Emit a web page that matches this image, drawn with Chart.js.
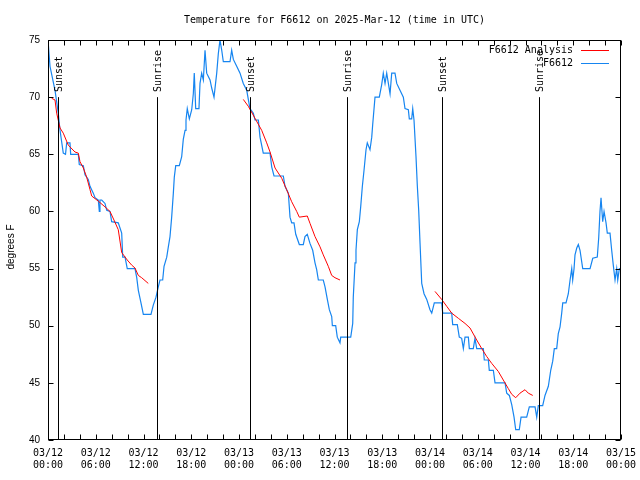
<!DOCTYPE html>
<html>
<head>
<meta charset="utf-8">
<script src="https://cdn.jsdelivr.net/npm/chart.js@4.4.1/dist/chart.umd.min.js"></script>
<style>
  html, body { margin: 0; padding: 0; background: #fff; }
</style>
</head>
<body>
<canvas id="chart" width="640" height="480"></canvas>
<script>
// hours since 03/12 00:00 UTC
const obsHours = [
  0, 0.25, 0.88, 1.29, 1.51, 1.92, 2.2, 2.35, 2.76, 2.85, 3.81, 3.93, 4.44, 4.65, 5.06, 5.28, 5.69, 5.91,
  6.32, 6.45, 6.53, 6.75, 7.16, 7.38, 7.79, 8.0, 8.83, 9.26, 9.39, 9.68, 9.96, 10.93, 11.15, 11.35, 11.65,
  11.98, 12.94, 13.23, 13.57, 13.86, 14.07, 14.41, 14.58, 14.92, 15.12, 15.33, 15.54, 15.75, 15.87, 16.05,
  16.5, 16.8, 17.0, 17.22, 17.34, 17.5, 17.76, 18.06, 18.26, 18.38, 18.56, 18.97, 19.1, 19.31, 19.52, 19.73,
  19.94, 20.36, 20.57, 20.86, 21.2, 21.4, 21.61, 21.83, 22.03, 22.87, 23.08, 23.29, 23.71, 24.13, 24.54,
  24.97, 25.17, 25.38, 25.8, 26.01, 26.43, 26.64, 27.05, 27.9, 28.11, 28.4, 29.57, 29.78, 30.2, 30.41,
  30.62, 30.91, 31.13, 31.58, 32.08, 32.29, 32.58, 32.92, 33.26, 33.55, 33.76, 33.97, 34.59, 34.81, 35.1,
  35.35, 35.65, 35.73, 36.15, 36.35, 36.69, 36.78, 38.04, 38.29, 38.36, 38.58, 38.7, 38.87, 39.12, 39.29,
  39.5, 39.71, 39.96, 40.12, 40.46, 40.68, 40.8, 41.09, 41.63, 41.93, 42.13, 42.35, 42.56, 42.98, 43.19,
  43.6, 43.82, 44.23, 44.65, 44.86, 45.28, 45.4, 45.7, 45.83, 45.99, 46.24, 46.41, 46.58, 46.75, 46.96,
  47.25, 47.59, 48.0, 48.22, 48.54, 49.47, 49.6, 50.73, 50.85, 51.43, 51.68, 51.98, 52.19, 52.4, 52.82,
  52.94, 53.44, 53.65, 53.87, 54.7, 54.82, 55.33, 55.45, 55.96, 56.17, 57.43, 57.64, 57.97, 58.27, 58.56,
  58.77, 59.22, 59.44, 60.15, 60.48, 61.2, 61.41, 61.61, 62.16, 62.45, 62.87, 63.17, 63.42, 63.62, 63.92,
  64.12, 64.34, 64.55, 64.68, 65.09, 65.38, 65.6, 65.81, 65.93, 66.1, 66.22, 66.44, 66.64, 66.85, 67.19,
  68.11, 68.45, 69.02, 69.2, 69.36, 69.49, 69.7, 69.87, 70.12, 70.28, 70.62, 70.83, 71.03, 71.25, 71.46,
  71.59, 71.79, 72.0
];
const obsTemps = [
  75, 72.7, 70.6, 68.6, 67.1, 65.1, 65, 66, 66, 65, 65, 64.1, 64, 63.2, 62.8, 62.2, 61.6, 61.2,
  61, 60, 61, 61, 60.7, 60.1, 60, 59.1, 59, 58.1, 56, 56, 55, 55, 54.2, 53.1, 52.1,
  51, 51, 51.8, 52.5, 53.4, 54, 54, 55.2, 56, 56.9, 57.8, 59.5, 61.6, 63, 64,
  64, 64.8, 66.3, 67.1, 68, 69, 68.1, 68.9, 70.3, 72.1, 69, 69, 71.2, 72.1, 71.5, 74.1,
  72.1, 71.5, 70.8, 70, 72.1, 73.8, 75, 74.1, 73.1, 73.1, 74.1, 73.3, 72.7, 72.1, 71.2,
  70.6, 69.8, 69, 68.6, 68, 68, 66.5, 65.1, 65.1, 63.9, 63.1, 63.1, 62.2, 61.6, 59.5,
  59, 59, 58, 57.1, 57.1, 57.8, 58, 57.2, 56.6, 55.5, 54.9, 54, 54, 53.4, 52.3,
  51.4, 50.8, 50, 50, 49, 48.5, 49, 49, 50.2, 52.5, 55.5, 56.6, 58.4, 59.1, 60.4,
  62.2, 63.6, 65.4, 66, 65.4, 66.5, 67.6, 70, 70, 71.1, 72.1, 71.2, 72.1, 70.3, 72.1,
  72.1, 71.2, 70.6, 70, 69, 68.9, 68.1, 68.1, 69, 68, 64.8, 62.2, 60.1, 57.2, 53.7,
  52.8, 52.3, 51.4, 51.1, 52, 52, 51.1, 51.1, 50.1, 50.1, 49, 48.9, 48, 49, 49,
  48, 48, 48.9, 48, 48, 47, 47, 46.1, 46.1, 45, 45, 44.1, 43.9, 43.1, 42,
  40.9, 40.9, 42, 42, 42.9, 42.9, 42, 43, 43, 43.9, 44.7, 46.1, 46.9, 48, 48,
  49.3, 49.9, 51.1, 52, 52, 52.8, 54, 55, 54, 55, 56.2, 56.8, 57.1, 56.6, 55,
  55, 55.9, 56, 57.7, 60, 61.2, 59.1, 60, 59, 58.1, 58.1, 56.6, 55.3, 54, 55,
  54, 55, 55
];

const anaHours = [
  0.46, 0.88, 1.09, 1.51, 1.92, 2.55, 3.39, 3.81, 4.02, 4.44, 4.86, 5.28, 5.49, 6.32, 7.16, 7.79, 8.29,
  8.83, 9.26, 9.96, 10.52, 10.93, 11.35, 11.77, 12.6,
  18,
  24.54, 25.17, 26.01, 26.85, 27.48, 27.9, 28.53, 29.37, 29.99, 30.62, 31.25, 31.58, 32.58, 32.92, 33.55,
  34.18, 34.59, 35.22, 35.65, 36.06, 36.69,
  42,
  48.63, 49.47, 50.1, 50.73, 51.56, 52.4, 53.03, 53.87, 54.5, 55.13, 55.76, 56.58, 57.21, 57.84, 58.27,
  58.77, 59.31, 59.94, 60.35, 60.91
];
const anaTemps = [
  69.9, 69.75, 68.6, 67.3, 66.85, 65.8, 65.2, 65.1, 64.35, 63.8, 63, 61.9, 61.35, 60.9, 60.4, 60, 59.25,
  58.4, 56.4, 55.75, 55.3, 55.05, 54.4, 54.2, 53.7,
  null,
  69.8, 69.2, 68.15, 67.1, 66, 65.2, 63.8, 62.9, 61.9, 60.85, 60, 59.5, 59.6, 58.96, 57.8,
  56.9, 56.2, 55.2, 54.4, 54.2, 54,
  null,
  53, 52.3, 51.7, 51.1, 50.65, 50.2, 49.8, 48.75, 48, 47.3, 46.7, 46, 45.25, 44.5, 44,
  43.7, 44.1, 44.4, 44.1, 43.9
];

const sunHours = [1.3, 13.65, 25.4, 37.6, 49.55, 61.74];
const sunLabels = ["Sunset", "Sunrise", "Sunset", "Sunrise", "Sunset", "Sunrise"];

const dayLabels = ["03/12", "03/12", "03/12", "03/12", "03/13", "03/13", "03/13", "03/13",
                   "03/14", "03/14", "03/14", "03/14", "03/15"];
const timeLabels = ["00:00", "06:00", "12:00", "18:00", "00:00", "06:00", "12:00", "18:00",
                    "00:00", "06:00", "12:00", "18:00", "00:00"];

const mono = '"DejaVu Sans Mono", monospace';
const sans = '"Liberation Sans", Arial, sans-serif';

const toPoints = (xs, ys) => xs.map((h, i) => ({ x: h, y: ys[i] }));

const gnuplotFrame = {
  id: "gnuplotFrame",
  afterDatasetsDraw(chart) {
    const { ctx, chartArea: a, scales: { x, y } } = chart;
    const L = Math.round(a.left) + 0.5, R = Math.round(a.right) - 0.5;
    const T = Math.round(a.top) + 0.5, B = Math.round(a.bottom) - 0.5;
    ctx.save();
    ctx.strokeStyle = "#000";
    ctx.fillStyle = "#000";
    ctx.lineWidth = 1;

    // sunrise / sunset markers
    sunHours.forEach((h, i) => {
      const px = Math.round(x.getPixelForValue(h)) + 0.5;
      ctx.beginPath();
      ctx.moveTo(px, B);
      ctx.lineTo(px, y.getPixelForValue(70));
      ctx.stroke();
      ctx.save();
      ctx.translate(px + 1, y.getPixelForValue(70.45));
      ctx.rotate(-Math.PI / 2);
      ctx.font = "10px " + mono;
      ctx.textAlign = "left";
      ctx.textBaseline = "middle";
      ctx.fillText(sunLabels[i], 0, 0);
      ctx.restore();
    });

    // border box
    ctx.strokeRect(L, T, R - L, B - T);

    // inward tick marks, mirrored
    ctx.beginPath();
    x.ticks.forEach(t => {
      const px = Math.round(x.getPixelForValue(t.value)) + 0.5;
      ctx.moveTo(px, B); ctx.lineTo(px, B - 5);
      ctx.moveTo(px, T); ctx.lineTo(px, T + 5);
    });
    y.ticks.forEach(t => {
      const py = Math.round(y.getPixelForValue(t.value)) + 0.5;
      ctx.moveTo(L, py); ctx.lineTo(L + 5, py);
      ctx.moveTo(R, py); ctx.lineTo(R - 5, py);
    });
    ctx.stroke();

    // title
    ctx.font = "10px " + mono;
    ctx.textAlign = "center";
    ctx.textBaseline = "middle";
    ctx.fillText("Temperature for F6612 on 2025-Mar-12 (time in UTC)", (a.left + a.right) / 2, 20);

    // y axis title
    ctx.save();
    ctx.translate(11, 247);
    ctx.rotate(-Math.PI / 2);
    ctx.font = "10px " + sans;
    ctx.fillText("degrees F", 0, 0);
    ctx.restore();

    // key
    ctx.font = "10px " + mono;
    ctx.textAlign = "right";
    chart.data.datasets.forEach((ds, i) => {
      const ly = a.top + 10 + i * 13;
      ctx.fillStyle = "#000";
      ctx.fillText(ds.label, a.right - 48, ly);
      ctx.strokeStyle = ds.borderColor;
      ctx.beginPath();
      ctx.moveTo(a.right - 40, Math.round(ly) + 0.5);
      ctx.lineTo(a.right - 12, Math.round(ly) + 0.5);
      ctx.stroke();
    });
    ctx.restore();
  }
};

new Chart(document.getElementById("chart"), {
  type: "line",
  data: {
    datasets: [
      {
        label: "F6612 Analysis",
        data: toPoints(anaHours, anaTemps),
        borderColor: "#ff0000",
        borderWidth: 1,
        pointRadius: 0,
        spanGaps: false
      },
      {
        label: "F6612",
        data: toPoints(obsHours, obsTemps),
        borderColor: "#1685f0",
        borderWidth: 1.2,
        pointRadius: 0
      }
    ]
  },
  options: {
    responsive: false,
    devicePixelRatio: 1,
    animation: false,
    layout: { padding: { top: 40, right: 19, left: 0, bottom: 0 } },
    plugins: {
      legend: { display: false },
      title: { display: false },
      tooltip: { enabled: false }
    },
    scales: {
      x: {
        type: "linear",
        min: 0,
        max: 72,
        afterFit: s => { s.height = 40; s.paddingLeft = 0; s.paddingRight = 0; },
        grid: { display: false, drawTicks: false },
        border: { display: false },
        ticks: {
          stepSize: 2,
          autoSkip: false,
          maxRotation: 0,
          padding: 7,
          color: "#000",
          font: { family: mono, size: 10 },
          callback: v => (v % 6 === 0 ? [dayLabels[v / 6], timeLabels[v / 6]] : "")
        }
      },
      y: {
        min: 40,
        max: 75,
        afterFit: s => { s.width = 48; },
        grid: { display: false, drawTicks: false },
        border: { display: false },
        ticks: {
          stepSize: 5,
          padding: 8,
          color: "#000",
          font: { family: sans, size: 10 }
        }
      }
    }
  },
  plugins: [gnuplotFrame]
});
</script>
</body>
</html>
